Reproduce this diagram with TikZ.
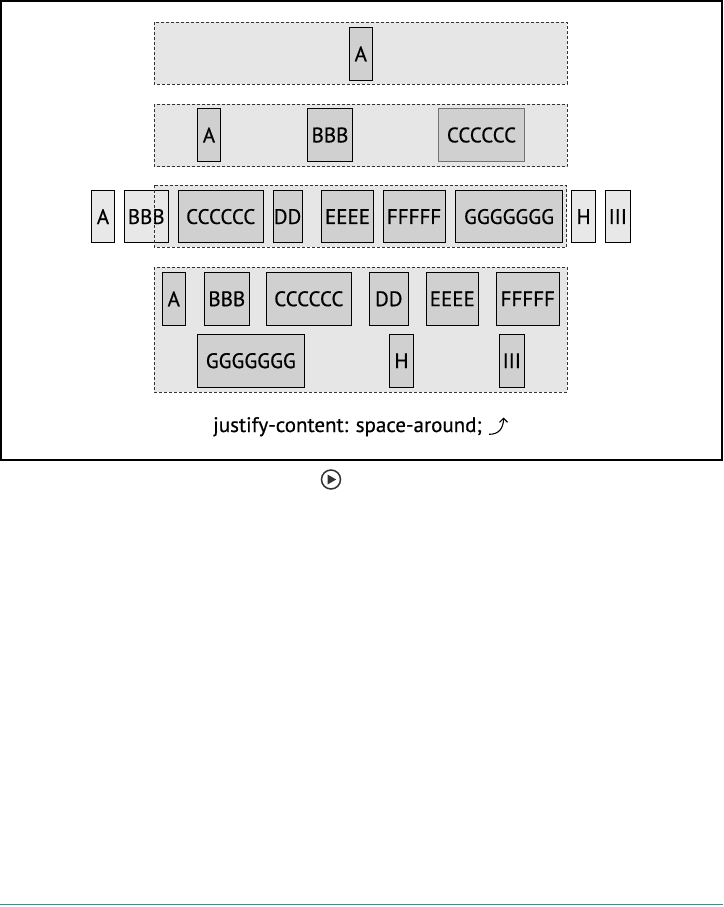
\documentclass[tikz,border=0pt]{standalone}
\usepackage{fontspec}
\setmainfont{PT Sans}
\newfontfamily\labelfont[FakeBold=0.5]{PT Sans}
\usetikzlibrary{arrows.meta}
\definecolor{contfill}{HTML}{E6E6E6}
\definecolor{boxfill}{HTML}{D0D0D0}
\definecolor{outfill}{HTML}{E8E8E8}
\definecolor{dashcol}{HTML}{333333}
\definecolor{accentline}{HTML}{00A99D}
\begin{document}
\begin{tikzpicture}[x=1pt,y=-1pt,
  cont/.style={draw=dashcol, dash pattern=on 3pt off 2pt, fill=contfill, line width=0.9pt},
  flexbox/.style={draw=black, line width=1pt, fill=boxfill, inner sep=0pt, minimum height=53pt,
    font=\labelfont\fontsize{21}{21}\selectfont, text=black},
  outbox/.style={flexbox, fill=outfill},
  w/.style={minimum width=#1 pt},
]
\useasboundingbox (0,0) rectangle (723,907);
% outer frame
\draw[line width=1.5pt] (1.2,1.2) rectangle (721.8,460);

% row 1
\path[cont] (154,22) rectangle (567,84);
\node[flexbox, w=23] (r1a) at (360.8,53.8) {A};

% row 2
\path[cont] (154,104) rectangle (567,166.5);
\node[flexbox, w=23.4, minimum height=52.6pt] (r2a) at (209,135) {A};
\node[flexbox, w=45.4, minimum height=52.6pt] (r2b) at (330,135) {BBB};
\node[flexbox, w=86.4, minimum height=52.6pt, draw=black!55] (r2c) at (481.5,135) {CCCCCC};

% row 3
\path[cont] (154,185) rectangle (566.5,247);
\node[outbox, w=23.2, minimum height=52pt] (r3a) at (103,216.6) {A};
\node[outbox, w=44.3, minimum height=52pt,
  path picture={\fill[boxfill] (155,180) rectangle (200,250);}] (r3b) at (146.2,216.6) {BBB};
\node[flexbox, w=85, minimum height=52pt] (r3c) at (220.7,216.6) {CCCCCC};
\node[flexbox, w=29, minimum height=52pt] (r3d) at (287.6,216.6) {DD};
\node[flexbox, w=52.2, minimum height=52pt] (r3e) at (347.5,216.6) {EEEE};
\node[flexbox, w=61.8, minimum height=52pt] (r3f) at (414.1,216.6) {FFFFF};
\node[flexbox, w=107, minimum height=52pt] (r3g) at (509,216.6) {GGGGGGG};
\node[outbox, w=23.6, minimum height=52pt] (r3h) at (583.6,216.6) {H};
\node[outbox, w=25, minimum height=52pt] (r3i) at (617.8,216.6) {III};
% redraw container dashed edge over BBB
\draw[dashcol, dash pattern=on 3pt off 2pt, line width=0.9pt] (154,185) -- (154,247);

% row 4
\path[cont] (154,267) rectangle (567,392);
\node[flexbox, w=23] (r4a) at (173.8,298.8) {A};
\node[flexbox, w=45] (r4b) at (226.8,298.8) {BBB};
\node[flexbox, w=85] (r4c) at (308.8,298.8) {CCCCCC};
\node[flexbox, w=39] (r4d) at (388.8,298.8) {DD};
\node[flexbox, w=52] (r4e) at (452.3,298.8) {EEEE};
\node[flexbox, w=63] (r4f) at (527.8,298.8) {FFFFF};
\node[flexbox, w=107, minimum height=53.3pt] (r4g) at (250.8,360.7) {GGGGGGG};
\node[flexbox, w=24.4, minimum height=53.3pt] (r4h) at (401.5,360.7) {H};
\node[flexbox, w=25, minimum height=53.3pt] (r4i) at (511.8,360.7) {III};

% caption
\node[anchor=base west, inner sep=0pt, font=\labelfont\fontsize{21}{21}\selectfont] (cap) at (213,432) {justify-content: space-around;};
\coordinate (ar1) at (489,434.3);
\coordinate (ar2) at (503.5,417.5);
\draw[line width=1.1pt, -{Straight Barb[length=4pt,width=8pt]}] (ar1) .. controls (499,434.5) and (503.5,428) .. (ar2);

% play icon
\node[circle, draw=dashcol, line width=1.5pt, minimum size=19pt, inner sep=0pt] (play) at (331,479.5) {};
\fill[dashcol] (327.5,474.5) -- (336.2,479.5) -- (327.5,484.5) -- cycle;

% bottom accent line
\fill[accentline] (0,903.5) rectangle (723,905.2);
\end{tikzpicture}
\end{document}
